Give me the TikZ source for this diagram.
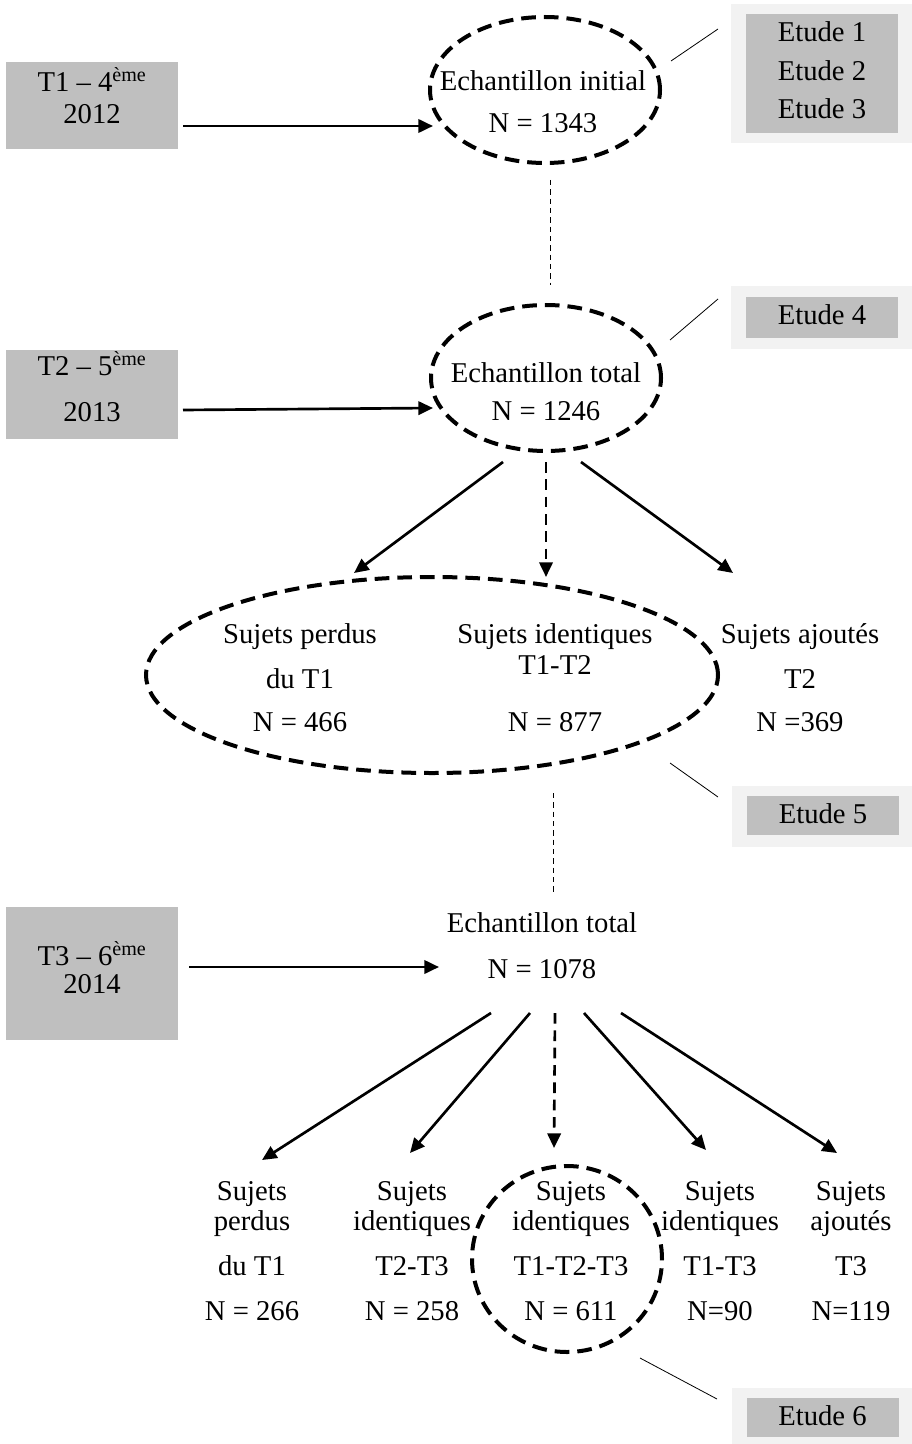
\documentclass[tikz,border=0pt]{standalone}
\usepackage{fontspec}
\setmainfont{Liberation Serif}
\usetikzlibrary{arrows.meta,shapes.geometric}
\definecolor{boxgray}{RGB}{191,191,191}
\definecolor{panegray}{RGB}{242,242,242}
\newcommand{\txtsize}{\fontsize{21.5pt}{25pt}\selectfont}
\begin{document}
\begin{tikzpicture}[x=0.75pt,y=-0.75pt,
  lbl/.style={font=\txtsize,inner sep=0pt,anchor=mid,yshift=-4.3pt},
  yearbox/.style={fill=boxgray,draw=none,inner sep=0pt},
  pane/.style={fill=panegray,draw=none,inner sep=0pt,minimum width=135.75pt},
  tag/.style={fill=boxgray,draw=none,inner sep=0pt,minimum width=114pt},
  group/.style={draw,ellipse,line width=3pt,dash pattern=on 11pt off 6pt,inner sep=0pt},
  arr/.style={line width=2pt,-{Triangle[length=11pt,width=10pt]}},
  darr/.style={arr,dash pattern=on 8pt off 5pt},
  link/.style={line width=0.6pt},
  thread/.style={line width=0.6pt,dash pattern=on 4pt off 3pt}]
\useasboundingbox (0,0) rectangle (912,1444);

% time-point boxes
\node[yearbox,minimum width=129pt,minimum height=65.25pt] (t1) at (92,105.5) {};
\node[yearbox,minimum width=129pt,minimum height=66.75pt] (t2) at (92,394.5) {};
\node[yearbox,minimum width=129pt,minimum height=99.75pt] (t3) at (92,973.5) {};
\node[lbl] (t1a) at (92,83) {T1 – 4\textsuperscript{ème}};
\node[lbl] (t1b) at (92,115) {2012};
\node[lbl] (t2a) at (92,367) {T2 – 5\textsuperscript{ème}};
\node[lbl] (t2b) at (92,413) {2013};
\node[lbl] (t3a) at (92,957) {T3 – 6\textsuperscript{ème}};
\node[lbl] (t3b) at (92,985) {2014};

% study panels
\node[pane,minimum height=104.25pt] (p1) at (821.5,73.5) {};
\node[tag,minimum height=89.25pt] (s1) at (822,73.5) {};
\node[lbl] (s1a) at (822,33) {Etude 1};
\node[lbl] (s1b) at (822,72) {Etude 2};
\node[lbl] (s1c) at (822,110) {Etude 3};
\node[pane,minimum height=47.25pt] (p4) at (821.5,317.5) {};
\node[tag,minimum height=30.75pt] (s4) at (822,317.5) {};
\node[lbl] (s4a) at (822,316) {Etude 4};
\node[pane,minimum height=45.75pt] (p5) at (822.5,816.5) {};
\node[tag,minimum height=29.25pt] (s5) at (823,815.5) {};
\node[lbl] (s5a) at (823,815) {Etude 5};
\node[pane,minimum height=45pt] (p6) at (822.5,1418) {};
\node[tag,minimum height=29.25pt] (s6) at (822.5,1417.5) {};
\node[lbl] (s6a) at (822.5,1417) {Etude 6};

% sample groups
\node[group,minimum width=172.5pt,minimum height=109.5pt] (e1) at (545,90) {};
\node[lbl] (e1a) at (543,82) {Echantillon initial};
\node[lbl] (e1b) at (543,124) {N = 1343};
\node[group,minimum width=172.5pt,minimum height=109.5pt] (e2) at (546,378) {};
\node[lbl] (e2a) at (546,374) {Echantillon total};
\node[lbl] (e2b) at (546,412) {N = 1246};
\node[group,minimum width=429pt,minimum height=147pt] (e3) at (432,675) {};
\node[lbl] (r2a1) at (300,635) {Sujets perdus};
\node[lbl] (r2a2) at (300,680) {du T1};
\node[lbl] (r2a3) at (300,723) {N = 466};
\node[lbl] (r2b1) at (555,635) {Sujets identiques};
\node[lbl] (r2b2) at (555,666) {T1-T2};
\node[lbl] (r2b3) at (555,723) {N = 877};
\node[lbl] (r2c1) at (800,635) {Sujets ajoutés};
\node[lbl] (r2c2) at (800,680) {T2};
\node[lbl] (r2c3) at (800,723) {N =369};
\node[lbl] (e5a) at (542,924) {Echantillon total};
\node[lbl] (e5b) at (542,970) {N = 1078};
\node[group,minimum width=142.5pt,minimum height=139.5pt] (e4) at (567,1259) {};
\foreach \n/\x/\a/\b/\c/\d in {1/252/Sujets/perdus/du T1/N = 266,
    2/412/Sujets/identiques/T2-T3/N = 258,
    3/571/Sujets/identiques/T1-T2-T3/N = 611,
    4/720/Sujets/identiques/T1-T3/N=90,
    5/851/Sujets/ajoutés/T3/N=119}{
  \node[lbl] (c\n a) at (\x,1192) {\a};
  \node[lbl] (c\n b) at (\x,1222) {\b};
  \node[lbl] (c\n c) at (\x,1267) {\c};
  \node[lbl] (c\n d) at (\x,1312) {\d};
}

% arrow end points
\coordinate (a1s) at (183,126);  \coordinate (a1e) at (433,126);
\coordinate (a2s) at (183,410);  \coordinate (a2e) at (433,408);
\coordinate (a3s) at (189,967);  \coordinate (a3e) at (439,967);
\coordinate (b1s) at (503,462);  \coordinate (b1e) at (354,573);
\coordinate (b2s) at (546,462);  \coordinate (b2e) at (546,577);
\coordinate (b3s) at (581,462);  \coordinate (b3e) at (733,573);
\coordinate (f1s) at (491,1013); \coordinate (f1e) at (262,1160);
\coordinate (f2s) at (530,1013); \coordinate (f2e) at (410,1153);
\coordinate (f3s) at (555,1013); \coordinate (f3e) at (554,1148);
\coordinate (f4s) at (584,1013); \coordinate (f4e) at (706,1150);
\coordinate (f5s) at (621,1013); \coordinate (f5e) at (837,1153);
\coordinate (l1s) at (671,61);   \coordinate (l1e) at (718,29);
\coordinate (l4s) at (670,340);  \coordinate (l4e) at (718,299);
\coordinate (l5s) at (670,763);  \coordinate (l5e) at (718,797);
\coordinate (l6s) at (640,1358); \coordinate (l6e) at (717,1399);
\coordinate (d1s) at (550,180);  \coordinate (d1e) at (550,285);
\coordinate (d2s) at (553,793);  \coordinate (d2e) at (553,893);

% time-point arrows
\draw[arr] (a1s) -- (a1e);
\draw[arr] (a2s) -- (a2e);
\draw[arr] (a3s) -- (a3e);
% splits of the samples
\draw[arr] (b1s) -- (b1e);
\draw[darr] (b2s) -- (b2e);
\draw[arr] (b3s) -- (b3e);
\draw[arr] (f1s) -- (f1e);
\draw[arr] (f2s) -- (f2e);
\draw[darr] (f3s) -- (f3e);
\draw[arr] (f4s) -- (f4e);
\draw[arr] (f5s) -- (f5e);
% study links
\draw[link] (l1s) -- (l1e);
\draw[link] (l4s) -- (l4e);
\draw[link] (l5s) -- (l5e);
\draw[link] (l6s) -- (l6e);
% follow-up threads
\draw[thread] (d1s) -- (d1e);
\draw[thread] (d2s) -- (d2e);
\end{tikzpicture}
\end{document}
